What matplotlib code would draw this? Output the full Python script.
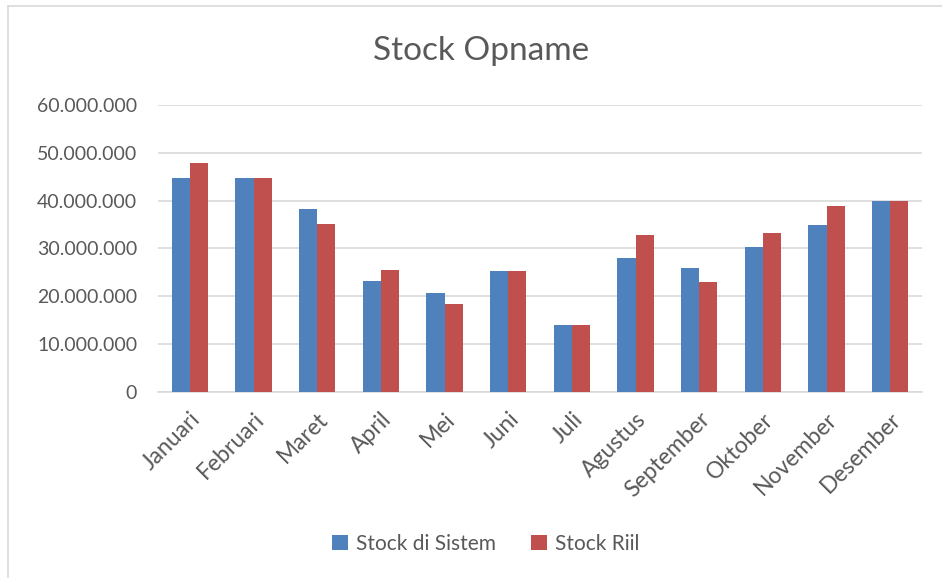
import matplotlib.pyplot as plt
import numpy as np
from matplotlib.ticker import FuncFormatter
from matplotlib.lines import Line2D

plt.rcParams['font.family'] = ['Lato', 'DejaVu Sans']

# data
months = ['Januari', 'Februari', 'Maret', 'April', 'Mei', 'Juni', 'Juli',
          'Agustus', 'September', 'Oktober', 'November', 'Desember']
stock_sistem = [44.7, 44.7, 38.3, 23.3, 20.7, 25.2, 14.0, 28.0, 26.0, 30.4, 35.0, 40.0]
stock_riil = [47.8, 44.7, 35.2, 25.6, 18.3, 25.2, 14.0, 32.9, 23.1, 33.2, 38.9, 40.0]
stock_sistem = [v * 1e6 for v in stock_sistem]
stock_riil = [v * 1e6 for v in stock_riil]

blue = '#4F81BD'
red = '#C0504D'
text_col = '#595959'
grid_col = '#D9D9D9'

fig = plt.figure(figsize=(9.42, 5.78), dpi=100)
ax = fig.add_axes([158 / 942, 1 - 392 / 578, (922 - 158) / 942, (392 - 105) / 578])

x = np.arange(len(months))
w = 0.287
ax.bar(x - w / 2, stock_sistem, w, color=blue, label='Stock di Sistem', zorder=3)
ax.bar(x + w / 2, stock_riil, w, color=red, label='Stock Riil', zorder=3)

ax.set_xlim(-0.5, len(months) - 0.5)
ax.set_ylim(0, 60e6)
ax.set_yticks(np.arange(0, 60e6 + 1, 10e6))
ax.yaxis.set_major_formatter(FuncFormatter(lambda v, p: f'{int(v):,}'.replace(',', '.')))
ax.grid(axis='y', color=grid_col, linewidth=1.2, zorder=0)

for s in ['top', 'right', 'left']:
    ax.spines[s].set_visible(False)
ax.spines['bottom'].set_color(grid_col)
ax.spines['bottom'].set_linewidth(1.2)
ax.tick_params(axis='both', length=0, labelcolor=text_col)
ax.tick_params(axis='y', pad=15, labelsize=14)
ax.set_xticks(x)
ax.set_xticklabels(months, rotation=45, ha='right', rotation_mode='anchor')
ax.tick_params(axis='x', pad=12, labelsize=16.5)

fig.text(481 / 942, 1 - 51 / 578, 'Stock Opname', ha='center', va='center',
         fontsize=24, color=text_col)

fig.legend(loc='center', bbox_to_anchor=(486 / 942, 1 - 544 / 578), ncol=2,
           frameon=False, fontsize=15, labelcolor=text_col, handlelength=0.75,
           handleheight=0.75, columnspacing=1.7, handletextpad=0.4)

# chart border (left and top visible in the crop)
fig.add_artist(Line2D([8 / 942, 8 / 942], [0, 1 - 6 / 578], color=grid_col, lw=1.2))
fig.add_artist(Line2D([8 / 942, 1], [1 - 6 / 578, 1 - 6 / 578], color=grid_col, lw=1.2))

plt.savefig('out.png', dpi=100)
